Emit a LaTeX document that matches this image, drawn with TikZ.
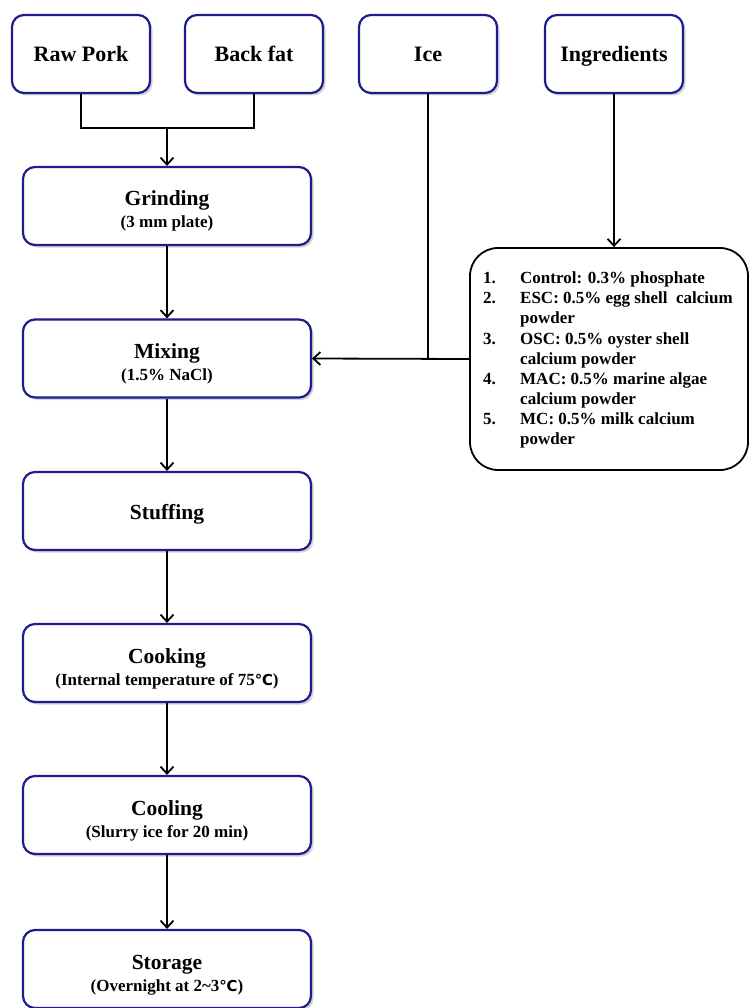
\documentclass[tikz,border=0pt]{standalone}
\usepackage{fontspec}
\setmainfont{Liberation Serif}
\newfontfamily\symfont{DejaVu Sans}
\usetikzlibrary{arrows.meta,shadows}
\definecolor{boxblue}{RGB}{28,28,140}
\newcommand{\degc}{{\symfont\bfseries\fontsize{15}{22}\selectfont ℃}}
\begin{document}
\begin{tikzpicture}[x=1pt,y=-1pt,
  stepbox/.style={draw=boxblue,line width=2.2pt,rounded corners=12pt,fill=white,
    minimum width=288pt,minimum height=78pt,align=center,inner sep=0pt,
    font=\fontsize{21.5}{22}\selectfont\bfseries,
    drop shadow={shadow xshift=2.5pt,shadow yshift=-2.5pt,opacity=0.35,fill=gray}},
  twoline/.style={text height=44pt,text depth=0pt},
  oneline/.style={text height=20pt,text depth=4pt},
  topbox/.style={stepbox,oneline,minimum width=138pt,font=\fontsize{22}{24}\selectfont\bfseries},
  conn/.style={line width=1.8pt,black},
  arr/.style={conn,-{Straight Barb[length=7pt,width=13pt,line width=1.8pt]}},
]
\useasboundingbox (0,0) rectangle (749,1008);
\newcommand{\sub}[1]{\\{\fontsize{17}{22}\selectfont\bfseries #1}}
% top boxes
\node[topbox] (raw) at (81,54) {Raw Pork};
\node[topbox] (back) at (254,54) {Back fat};
\node[topbox] (ice) at (428,54) {Ice};
\node[topbox] (ing) at (614,54) {Ingredients};
% process boxes
\node[stepbox,twoline] (grind) at (167,206) {Grinding\sub{(3 mm plate)}};
\node[stepbox,twoline] (mix) at (167,358.5) {Mixing\sub{(1.5\% NaCl)}};
\node[stepbox,oneline] (stuff) at (167,511) {Stuffing};
\node[stepbox,twoline] (cook) at (167,663) {Cooking\sub{(Internal temperature of 75\degc)}};
\node[stepbox,twoline] (cool) at (167,815) {Cooling\sub{(Slurry ice for 20 min)}};
\node[stepbox,twoline] (store) at (167,969) {Storage\sub{(Overnight at 2\textasciitilde 3\degc)}};
% ingredients list box
\node[draw=black,line width=1.8pt,rounded corners=28pt,minimum width=278pt,minimum height=222pt,inner sep=0pt] (list) at (609,359) {};
\node[anchor=north west,inner sep=0pt,font=\fontsize{17}{20.1}\selectfont\bfseries] (listtext) at (483,269.5) {%
\begin{tabular}{@{}p{37pt}@{}l@{}}
1. & Control: 0.3\% phosphate\\
2. & ESC: 0.5\% egg shell\ \ calcium\\
   & powder\\
3. & OSC: 0.5\% oyster shell\\
   & calcium powder\\
4. & MAC: 0.5\% marine algae\\
   & calcium powder\\
5. & MC: 0.5\% milk calcium\\
   & powder
\end{tabular}};
% connectors
\coordinate (j) at (167,128);
\draw[conn] (raw.south) |- (j);
\draw[conn] (back.south) |- (j);
\draw[arr] (j) -- (grind.north);
\draw[arr] (grind.south) -- (mix.north);
\draw[arr] (mix.south) -- (stuff.north);
\draw[arr] (stuff.south) -- (cook.north);
\draw[arr] (cook.south) -- (cool.north);
\draw[arr] (cool.south) -- (store.north);
\coordinate (ij) at (ice.south |- mix.east);
\draw[conn] (ice.south) -- (ij);
\draw[arr] (list.west) -- (mix.east);
\draw[arr] (ing.south) -- (ing.south |- list.north);
\end{tikzpicture}
\end{document}
